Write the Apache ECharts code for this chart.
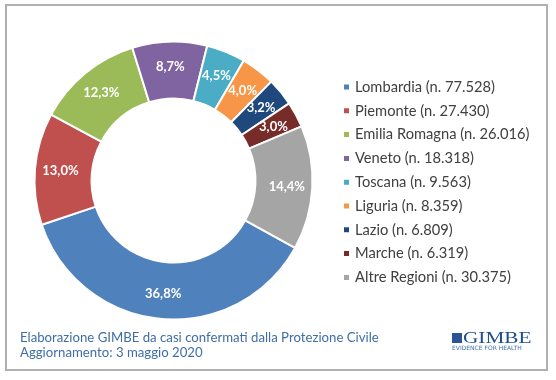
<!DOCTYPE html>
<html><head><meta charset="utf-8">
<script src="https://cdn.jsdelivr.net/npm/echarts@6/dist/echarts.min.js"></script>
<style>html,body{margin:0;padding:0;background:#fff}#c{width:556px;height:380px}</style>
</head><body><div id="c"></div>
<script>
const regions = ['Lombardia','Piemonte','Emilia Romagna','Veneto','Toscana','Liguria','Lazio','Marche','Altre Regioni'];
const cases = [77528,27430,26016,18318,9563,8359,6809,6319,30375];
const colors = ['#4f81bd','#c0504d','#9bbb59','#8064a2','#4bacc6','#f79646','#1f497d','#772c2a','#a5a5a5'];
const footerLines = ['Elaborazione GIMBE da casi confermati dalla Protezione Civile','Aggiornamento: 3 maggio 2020'];

const total = cases.reduce((a,b)=>a+b,0);
const fmtN = v => String(v).replace(/\B(?=(\d{3})+(?!\d))/g,'.');
const font = 'Lato, "Open Sans", sans-serif';

const chart = echarts.init(document.getElementById('c'));
chart.setOption({
  animation:false,
  color: colors,
  legend:{
    orient:'vertical', left:342, top:79, padding:0,
    icon:'rect', itemWidth:7, itemHeight:7, itemGap:7.8,
    textStyle:{color:'#404040', fontSize:14.7, fontFamily:font, lineHeight:16},
    formatter: name => name + ' (n. ' + fmtN(cases[regions.indexOf(name)]) + ')'
  },
  series:[{
    type:'pie',
    center:[173.5,180.5],
    radius:[82,139],
    startAngle:-29,
    clockwise:true,
    avoidLabelOverlap:false,
    itemStyle:{borderColor:'#fff', borderWidth:2},
    label:{
      position:'inside', color:'#fff', fontSize:13, fontWeight:'bold', fontFamily:font,
      formatter: p => (p.value/total*100).toFixed(1).replace('.',',') + '%'
    },
    labelLine:{show:false},
    emphasis:{disabled:true},
    data: regions.map((r,i)=>({name:r, value:cases[i]}))
  }],
  graphic:[
    {type:'rect', shape:{x:6, y:5, width:541, height:365}, style:{fill:'none', stroke:'#b0b0b0', lineWidth:2}, z:-1},
    {type:'text', style:{x:20, y:338, verticalAlign:'middle', text:footerLines[0], fill:'#3f6ea7', font:'13.2px '+font}},
    {type:'text', style:{x:20, y:353, verticalAlign:'middle', text:footerLines[1], fill:'#3f6ea7', font:'13.2px '+font}},
    {type:'rect', shape:{x:452, y:333, width:10, height:10}, style:{fill:'#2a5595'}},
    {type:'text', x:463, y:338.5, scaleX:1.25, style:{x:0, y:0, verticalAlign:'middle', text:'GIMBE', fill:'#1f4e8c', font:'17px "Liberation Serif", serif'}},
    {type:'text', style:{x:452, y:348, verticalAlign:'middle', text:'EVIDENCE FOR HEALTH', fill:'#3f6ea7', font:'6px "DejaVu Sans", sans-serif'}}
  ]
});
</script></body></html>
